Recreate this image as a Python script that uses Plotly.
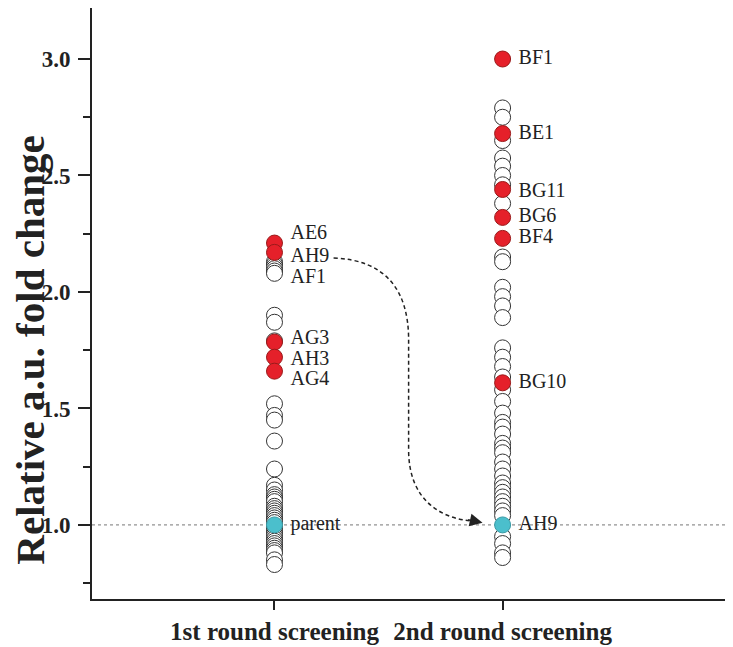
import plotly.graph_objects as go

# ---- data ----
categories = ["1st round screening", "2nd round screening"]
cat_pos = [1, 2]

round1_open = [2.13, 2.12, 2.11, 2.10, 2.09, 2.08, 1.90, 1.87, 1.79, 1.52, 1.47, 1.45,
               1.36, 1.24, 1.17, 1.15, 1.13, 1.12, 1.11, 1.10, 1.08, 1.07, 1.06, 1.05,
               1.04, 1.03, 1.02, 1.01, 0.99, 0.98, 0.97, 0.96, 0.95, 0.94, 0.93, 0.92,
               0.91, 0.90, 0.89, 0.88, 0.85, 0.83]
round1_red = [2.21, 2.17, 1.785, 1.72, 1.66]
round1_parent = [1.0]

round2_open = [2.79, 2.75, 2.65, 2.575, 2.54, 2.50, 2.46, 2.38, 2.15, 2.13, 2.02, 1.98,
               1.94, 1.89, 1.76, 1.72, 1.68, 1.635, 1.58, 1.53, 1.48, 1.44, 1.42, 1.39,
               1.35, 1.33, 1.31, 1.27, 1.24, 1.21, 1.18, 1.16, 1.14, 1.12, 1.10, 1.08,
               1.06, 1.04, 0.95, 0.92, 0.88, 0.86]
round2_red = [3.0, 2.68, 2.44, 2.32, 2.23, 1.61]
round2_parent = [1.0]

round1_labels = ["AE6", "AH9", "AF1", "AG3", "AH3", "AG4", "parent"]
round1_label_y = [2.25, 2.15, 2.06, 1.80, 1.71, 1.62, 1.0]
round2_labels = ["BF1", "BE1", "BG11", "BG6", "BF4", "BG10", "AH9"]
round2_label_y = [3.0, 2.68, 2.43, 2.32, 2.23, 1.61, 1.0]

y_tickvals = [1.0, 1.5, 2.0, 2.5, 3.0]
y_ticktext = ["1.0", "1.5", "2.0", "2.5", "3.0"]
y_minor_ticks = [0.75, 1.25, 1.75, 2.25, 2.75]

RED = "#e5202a"
CYAN = "#4bbfcc"
INK = "#222222"
SERIF = "Liberation Serif"

fig = go.Figure()

def add_pts(xv, yv, fill, line):
    fig.add_trace(go.Scatter(
        x=[xv] * len(yv), y=yv, mode="markers", showlegend=False, hoverinfo="skip",
        marker=dict(size=16, color=fill, line=dict(color=line, width=1))))

add_pts(cat_pos[0], round1_open, "white", "#333333")
add_pts(cat_pos[1], round2_open, "white", "#333333")
add_pts(cat_pos[0], round1_red, RED, "#9a1a1a")
add_pts(cat_pos[1], round2_red, RED, "#9a1a1a")
add_pts(cat_pos[0], round1_parent, CYAN, "#3a9aa5")
add_pts(cat_pos[1], round2_parent, CYAN, "#3a9aa5")

# labels
for labels, ys, xpos in [(round1_labels, round1_label_y, cat_pos[0] + 0.07),
                         (round2_labels, round2_label_y, cat_pos[1] + 0.07)]:
    fig.add_trace(go.Scatter(
        x=[xpos] * len(labels), y=ys, mode="text", text=labels,
        textposition="middle right", showlegend=False, hoverinfo="skip",
        textfont=dict(family=SERIF, size=20, color=INK)))

# dotted reference line
fig.add_shape(type="line", xref="paper", x0=0, x1=1, yref="y", y0=1.0, y1=1.0,
              line=dict(color="#777777", width=1, dash="dot"), layer="below")

# curved dashed arrow from AH9 (round 1) to AH9 (round 2)
fig.add_shape(type="path", xref="x", yref="y",
              path=("M 1.259,2.146 C 1.487,2.137 1.588,2.009 1.588,1.794 "
                    "L 1.588,1.322 C 1.588,1.107 1.728,1.030 1.860,1.017"),
              line=dict(color=INK, width=1.5, dash="4px,3px"))
fig.add_annotation(x=1.912, y=1.009, ax=1.842, ay=1.024, xref="x", yref="y",
                   axref="x", ayref="y", showarrow=True, arrowhead=2,
                   arrowsize=1.7, arrowwidth=1.5, arrowcolor=INK, text="")

# y-axis title (placed as rotated text)
fig.add_annotation(text="<b>Relative a.u. fold change</b>", xref="paper", yref="paper",
                   x=-0.096, y=0.421, xanchor="center", yanchor="middle",
                   showarrow=False, textangle=-90,
                   font=dict(family=SERIF, size=41, color=INK))

fig.update_layout(
    width=733, height=647,
    margin=dict(l=84, r=8, t=0, b=56, autoexpand=False),
    plot_bgcolor="white", paper_bgcolor="white",
    font=dict(family=SERIF, color=INK),
)
fig.update_xaxes(
    range=[0.2, 3.01], tickvals=cat_pos, ticktext=categories, tickangle=0,
    showline=True, linecolor=INK, linewidth=2, automargin=False,
    ticks="outside", ticklen=9, tickwidth=1.5, tickcolor=INK,
    showgrid=False, zeroline=False,
    tickfont=dict(family=SERIF, size=25, weight="bold", color=INK),
)
fig.update_yaxes(
    range=[0.682, 3.219], tickvals=y_tickvals, ticktext=y_ticktext,
    showline=True, linecolor=INK, linewidth=2, automargin=False,
    ticks="outside", ticklen=12, tickwidth=1.5, tickcolor=INK,
    ticklabelstandoff=3,
    minor=dict(tickvals=y_minor_ticks, ticks="outside",
               ticklen=7, tickwidth=1.5, tickcolor=INK),
    showgrid=False, zeroline=False,
    tickfont=dict(family=SERIF, size=23, weight="bold", color=INK),
)

fig.write_html("out.html")
